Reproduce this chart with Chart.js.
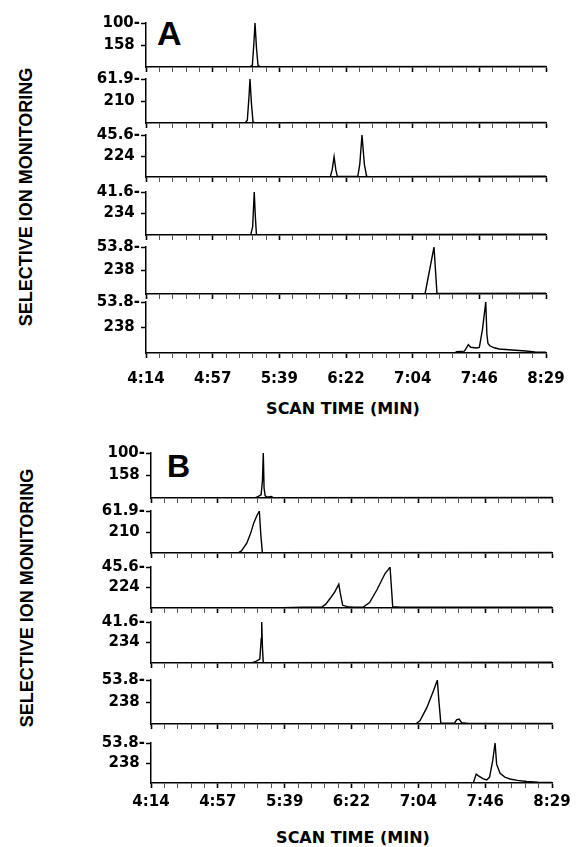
<!DOCTYPE html>
<html>
<head>
<meta charset="utf-8">
<script src="https://cdn.jsdelivr.net/npm/chart.js@4.4.1/dist/chart.umd.min.js"></script>
<style>
  body { margin: 0; background: #fff; width: 580px; height: 847px; position: relative; overflow: hidden;
         font-family: "Liberation Sans", Arial, sans-serif; font-weight: bold; color: #000; }
  canvas { position: absolute; }
  .txt { position: absolute; white-space: nowrap; line-height: 1; }
  .center { transform: translate(-50%, -50%); }
  .vert { transform: translate(-50%, -50%) rotate(-90deg); }
</style>
</head>
<body>
<div class="txt" style="left:157px; top:16px; font-size:34px;">A</div>
<div class="txt" style="left:167px; top:450px; font-size:32px;">B</div>
<div class="txt vert" style="left:26px; top:197px; font-size:18px;">SELECTIVE ION MONITORING</div>
<div class="txt vert" style="left:27px; top:598px; font-size:18px;">SELECTIVE ION MONITORING</div>
<div class="txt center" style="left:343px; top:409px; font-size:16px; font-family:'DejaVu Sans';">SCAN TIME (MIN)</div>
<div class="txt center" style="left:353px; top:838px; font-size:16px; font-family:'DejaVu Sans';">SCAN TIME (MIN)</div>

<script>
// time axis (seconds), ticks every 42.5 s
const timeTicks = [254, 296.5, 339, 381.5, 424, 466.5, 509];
const timeLabels = ['4:14', '4:57', '5:39', '6:22', '7:04', '7:46', '8:29'];

// ions and full scale for each trace
const ionsA = ['158', '210', '224', '234', '238', '238'];
const fullScaleA = [100, 61.9, 45.6, 41.6, 53.8, 53.8];
const ionsB = ['158', '210', '224', '234', '238', '238'];
const fullScaleB = [100, 61.9, 45.6, 41.6, 53.8, 53.8];

// panel A traces [time s, intensity]
const a158 = [[254,0.5],[320,0.5],[321.8,4],[322.8,55],[323.5,100],[324.4,45],[325.4,4],[326.8,0.6],[509,1]];
const a210 = [[254,0.3],[317.2,0.3],[318.6,4],[319.6,35],[320.3,61.9],[321.2,28],[322.2,2],[323.5,0.3],[509,0.8]];
const a224 = [[254,0.3],[371.5,0.3],[372.7,8],[373.9,22],[375,8],[376,0.5],[389,0.5],[390.3,14],[391.7,45.6],[393.2,14],[394.6,1],[396,0.3],[509,0.8]];
const a234 = [[254,0.3],[320.8,0.3],[322,8],[323,41.6],[323.7,18],[324.4,0.4],[509,0.8]];
const a238a = [[254,0.3],[431.9,0.3],[437.6,53.8],[439.5,0.5],[509,0.8]];
const a238b = [[254,0.3],[451,0.3],[452,1.5],[457,2],[458.5,6],[459.5,8.8],[461,6],[464.8,5.3],[466.5,6],[468.5,25],[470.6,53.8],[471.3,20],[472,10],[473.3,7.4],[476,5.5],[479.1,4.2],[487.3,3.2],[496.2,2.1],[502,1],[509,0.8]];

// panel B traces
const b158 = [[254,0.3],[320,0.4],[322,3],[324,7],[324.9,40],[325.4,100],[325.9,22],[326.6,5],[328,2],[330.5,3.5],[332,0.5],[509,1]];
const b210 = [[254,0.3],[309.5,0.3],[311.5,3],[315,15],[317.5,30],[319.3,44],[321.3,55],[322.9,61.9],[323.8,28],[324.8,0.5],[509,0.8]];
const b224 = [[254,0.3],[338,0.3],[350,0.8],[362.6,1],[365,4],[368,10.8],[370.7,17.5],[373.4,26.4],[374.3,17],[375.9,3],[379,1.5],[383,1],[389,1],[393,6],[397.6,20],[402.9,38.6],[405,43],[406,45.6],[406.8,25],[407.7,1.5],[413,0.8],[509,0.8]];
const b234 = [[254,0.3],[318.5,0.3],[321,2],[323.2,4],[324.1,25],[324.4,41.6],[324.9,15],[325.4,0.4],[509,0.8]];
const b238a = [[254,0.3],[422.5,0.3],[425,4],[429.4,20],[433.7,41],[436.1,53.8],[437,30],[438.3,1],[447,1],[448.3,5],[449.9,6],[451.6,1.5],[456,0.8],[509,0.8]];
const b238b = [[254,0.3],[459,0.3],[460.8,12],[462,10],[465,6],[467.5,4],[469.3,8],[471.3,30],[472.8,53.8],[473.8,25],[476,13],[479,8],[482.3,5.4],[487,3.5],[493,2],[500,1],[509,0.8]];

const panels = [
  { traces: [a158, a210, a224, a234, a238a, a238b], ions: ionsA, full: fullScaleA,
    left: 146, right: 546, tops: [23, 79, 135, 192, 247, 302], bases: [67, 123, 177, 235, 294, 353], labelPad: 12 },
  { traces: [b158, b210, b224, b234, b238a, b238b], ions: ionsB, full: fullScaleB,
    left: 151, right: 552, tops: [453, 511, 567, 622, 680, 743], bases: [498, 553, 608, 663, 724, 783], labelPad: 5 }
];

// 4 minor ticks between the labelled ones
const minorTicks = [];
for (let k = 0; k <= 30; k++) minorTicks.push(timeTicks[0] + k * 8.5);

const Y_W = 90, PAD_T = 14, PAD_R = 26, TICK = 5;
const tickFont = { family: 'DejaVu Sans', weight: 'bold', size: 15 };

function addRow(p, i) {
  const last = i === 5;
  const xH = last ? TICK + p.labelPad + 20 : TICK + 2;
  const rowH = p.bases[i] - p.tops[i];
  const full = p.full[i];
  const ion = p.ions[i];

  const cv = document.createElement('canvas');
  cv.width = Y_W + (p.right - p.left) + PAD_R;
  cv.height = PAD_T + rowH + xH;
  cv.style.left = (p.left - Y_W) + 'px';
  cv.style.top = (p.tops[i] - PAD_T) + 'px';
  document.body.appendChild(cv);

  new Chart(cv, {
    type: 'line',
    data: {
      datasets: [{
        data: p.traces[i].map(([x, y]) => ({ x, y })),
        borderColor: '#000',
        borderWidth: 1.4,
        pointRadius: 0,
        tension: 0,
        fill: false
      }]
    },
    options: {
      responsive: false,
      animation: false,
      devicePixelRatio: 1,
      events: [],
      layout: { padding: { top: PAD_T, right: PAD_R, left: 0, bottom: 0 } },
      plugins: { legend: { display: false }, tooltip: { enabled: false } },
      scales: {
        x: {
          type: 'linear', min: 254, max: 509,
          afterBuildTicks: s => { s.ticks = minorTicks.map(v => ({ value: v })); },
          afterFit: s => { s.height = xH; s.paddingLeft = 0; s.paddingRight = 0; },
          grid: {
            drawOnChartArea: false, tickLength: TICK,
            tickColor: ctx => (ctx.index % 5 ? '#555' : '#000'),
            tickWidth: ctx => (ctx.index % 5 ? 1 : 1.6)
          },
          border: { display: true, color: '#000', width: 1.6 },
          ticks: {
            display: last, autoSkip: false, maxRotation: 0, padding: p.labelPad,
            color: '#000', font: tickFont,
            callback: (v, k) => (k % 5 === 0 ? timeLabels[k / 5] : '')
          }
        },
        y: {
          min: 0, max: full,
          afterBuildTicks: s => { s.ticks = [{ value: full / 2 }, { value: full }]; },
          afterFit: s => { s.width = Y_W; s.paddingTop = 0; s.paddingBottom = 0; },
          grid: { drawOnChartArea: false, tickLength: TICK, tickColor: '#000', tickWidth: 1.5 },
          border: { color: '#000', width: 1.5 },
          ticks: {
            padding: 1, color: '#000', font: tickFont,
            callback: (v, k) => (k === 1 ? full + '-' : ion + ' ')
          }
        }
      }
    }
  });
}

panels.forEach(p => { for (let i = 0; i < 6; i++) addRow(p, i); });
</script>
</body>
</html>
